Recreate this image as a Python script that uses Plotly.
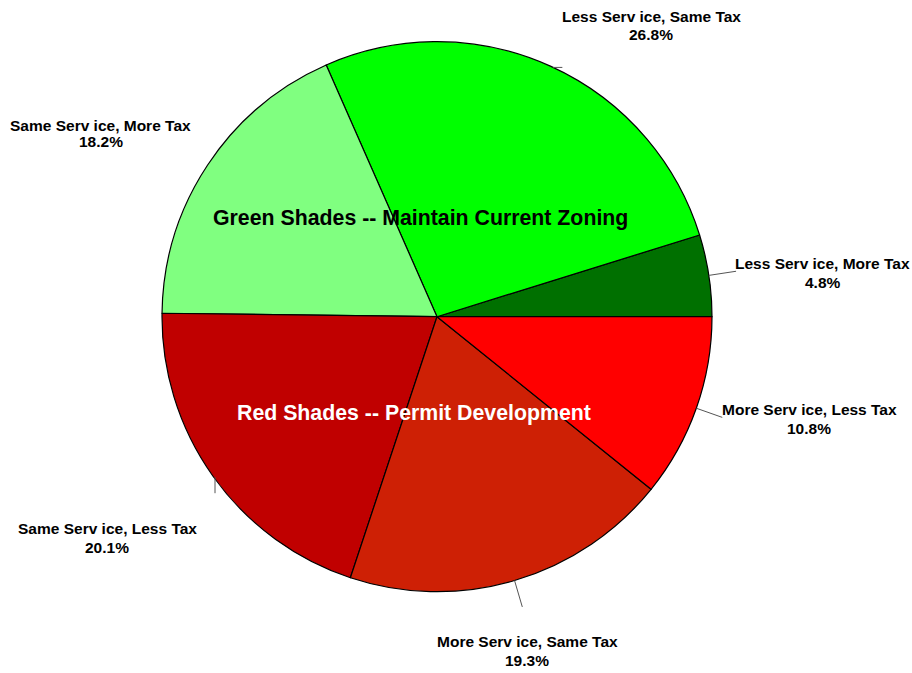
import math
import plotly.graph_objects as go

# ---- data ----
labels = ["Less Serv ice, More Tax", "Less Serv ice, Same Tax", "Same Serv ice, More Tax",
          "Same Serv ice, Less Tax", "More Serv ice, Same Tax", "More Serv ice, Less Tax"]
values = [4.8, 26.8, 18.2, 20.1, 19.3, 10.8]
colors = ["#007000", "#00FF00", "#80FF80", "#C00000", "#CE2005", "#FF0000"]

# ---- layout (pixels, page coordinates) ----
W, H = 912, 673
CX, CY, R = 437, 316.7, 275
# label line centres (pixels): x, y of first line, y of second line
label_pos = [(822.5, 264, 282.3), (651, 16.7, 34.3), (100.8, 125, 141.7),
             (107.2, 528.3, 547.3), (527.2, 641.7, 660), (809.3, 409.3, 429)]
tick_style = ["radial", "h", "none", "v", "radial", "radial"]
FONT = "Liberation Sans, Arial, sans-serif"

def px(x):
    return x / W

def py(y):
    return 1 - y / H

total = sum(values)
fig = go.Figure(go.Pie(
    labels=labels, values=values, sort=False, direction="counterclockwise",
    rotation=90 - values[0] / total * 360,
    marker=dict(colors=colors, line=dict(color="black", width=1.2)),
    textinfo="none", hoverinfo="skip", showlegend=False,
    domain=dict(x=[px(CX - R), px(CX + R)], y=[py(CY + R), py(CY - R)]),
))

cum = 0
shapes = []
annotations = []
for lab, v, pos, ts in zip(labels, values, label_pos, tick_style):
    mid = (cum + v / 2) / total * 2 * math.pi
    cum += v
    x0 = CX + R * math.cos(mid)
    y0 = CY - R * math.sin(mid)
    x1 = CX + 1.1 * R * math.cos(mid)
    y1 = CY - 1.1 * R * math.sin(mid)
    if ts == "radial":
        seg = (x0, y0, x1, y1)
    elif ts == "h":
        seg = (x0 + 2, y0 + 1, x1, y0 + 1)
    elif ts == "v":
        seg = (x0 + 2, y0 + 1, x0 + 2, y1 + 1)
    else:
        seg = None
    if seg:
        shapes.append(dict(type="line", xref="paper", yref="paper",
                           x0=px(seg[0]), y0=py(seg[1]), x1=px(seg[2]), y1=py(seg[3]),
                           line=dict(color="#555555", width=1)))
    for txt, yy in ((lab, pos[1]), (f"{v:.1f}%", pos[2])):
        annotations.append(dict(
            x=px(pos[0]), y=py(yy), xref="paper", yref="paper",
            text=f"<b>{txt}</b>", showarrow=False,
            xanchor="center", yanchor="middle", align="center",
            font=dict(family=FONT, size=15.5, color="black"),
        ))

annotations.append(dict(x=px(420), y=py(218), xref="paper", yref="paper",
                        text="<b>Green Shades -- Maintain Current Zoning</b>", showarrow=False,
                        xanchor="center", yanchor="middle",
                        font=dict(family=FONT, size=21.3, color="black")))
annotations.append(dict(x=px(414), y=py(413), xref="paper", yref="paper",
                        text="<b>Red Shades -- Permit Development</b>", showarrow=False,
                        xanchor="center", yanchor="middle",
                        font=dict(family=FONT, size=21.3, color="white")))

fig.update_layout(width=W, height=H, margin=dict(l=0, r=0, t=0, b=0),
                  paper_bgcolor="white", plot_bgcolor="white",
                  shapes=shapes, annotations=annotations)
fig.write_html("out.html", config={"displayModeBar": False},
               post_script="document.body.style.margin='0';document.body.style.overflow='hidden';")
